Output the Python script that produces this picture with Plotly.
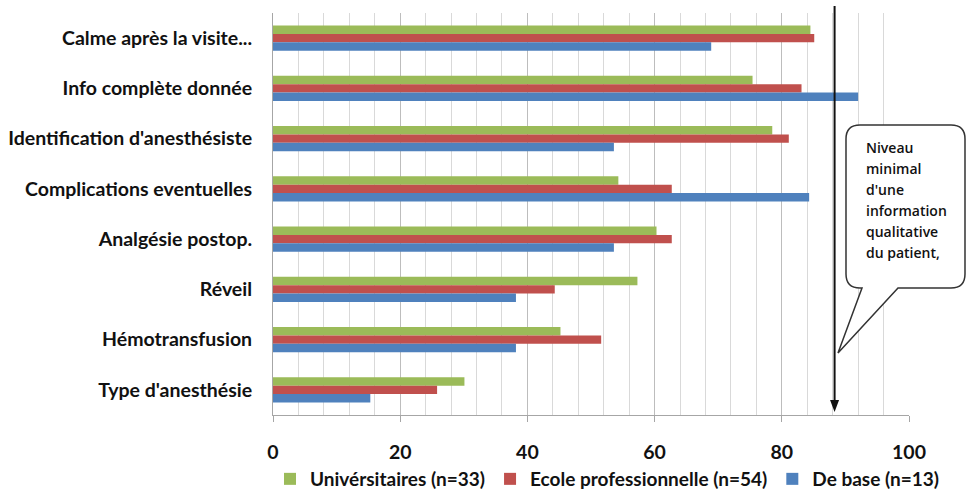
import plotly.graph_objects as go

# Survey items, listed top to bottom
categories = [
    "Calme après la visite...",
    "Info complète donnée",
    "Identification d'anesthésiste",
    "Complications eventuelles",
    "Analgésie postop.",
    "Réveil",
    "Hémotransfusion",
    "Type d'anesthésie",
]

universitaires = [84.5, 75.4, 78.5, 54.3, 60.3, 57.3, 45.2, 30.1]
ecole_pro = [85.1, 83.1, 81.1, 62.7, 62.7, 44.3, 51.6, 25.8]
de_base = [68.9, 92.0, 53.6, 84.3, 53.6, 38.2, 38.2, 15.3]

series_names = ["Univérsitaires (n=33)", "Ecole professionnelle (n=54)", "De base (n=13)"]
series_colors = ["#9BBB59", "#C0504D", "#4F81BD"]

x_ticks = [0, 20, 40, 60, 80, 100]
threshold = 88.3  # minimal level marker
callout_lines = ["Niveau", "minimal", "d'une", "information", "qualitative", "du patient,"]

W, H = 967, 492
L, R, T, B = 273, 909, 13, 415


def px_x(px):
    return (px - L) / (R - L)


def px_y(py):
    return (B - py) / (B - T)


fig = go.Figure()
for name, vals, col in zip(series_names, [universitaires, ecole_pro, de_base], series_colors):
    fig.add_trace(go.Bar(
        y=categories, x=vals, name=name, orientation="h",
        marker=dict(color=col, line=dict(width=0)),
    ))

font_lbl = dict(family="Lato", size=19.5, color="#111111", weight="bold")

fig.update_layout(
    width=W, height=H,
    margin=dict(l=L, r=W - R, t=T, b=H - B, pad=0, autoexpand=False),
    paper_bgcolor="white", plot_bgcolor="white",
    barmode="group", bargap=0.5, bargroupgap=0,
    showlegend=True,
    legend=dict(orientation="h", x=px_x(270), y=px_y(479), xanchor="left", yanchor="middle",
                font=dict(family="Lato", size=19, color="#111111", weight="bold"),
                itemwidth=30, tracegroupgap=0,
                bgcolor="rgba(0,0,0,0)"),
    xaxis=dict(range=[0, 100], tickvals=x_ticks, ticktext=[str(v) for v in x_ticks],
               showgrid=True, gridcolor="#bdbdbd", gridwidth=1,
               minor=dict(dtick=4, showgrid=True, gridcolor="#d9d9d9", gridwidth=1),
               showline=True, linecolor="#a6a6a6", linewidth=1,
               ticks="outside", ticklen=6, tickcolor="#a6a6a6",
               ticklabelstandoff=14, tickfont=font_lbl, zeroline=False, fixedrange=True),
    yaxis=dict(categoryorder="array", categoryarray=categories, autorange="reversed",
               showgrid=False, showline=True, linecolor="#a6a6a6", linewidth=1,
               ticks="", ticklabelstandoff=16, tickfont=font_lbl, zeroline=False),
)

# Threshold arrow: vertical line with a filled head
arrow_px = L + threshold / 100 * (R - L)
fig.add_shape(type="line", xref="x", yref="paper", x0=threshold, x1=threshold,
              y0=px_y(6), y1=px_y(402), line=dict(color="#111111", width=2))
fig.add_shape(type="path", xref="paper", yref="paper",
              path="M {a},{b} L {c},{b} L {d},{e} Z".format(
                  a=px_x(arrow_px - 4.5), b=px_y(400), c=px_x(arrow_px + 4.5),
                  d=px_x(arrow_px), e=px_y(412)),
              fillcolor="#111111", line=dict(width=0))

# Speech-bubble callout
x0, x1, y0, y1, r = 846, 965, 125, 288, 14
pts = [
    ("M", (x0 + r, y0)), ("L", (x1 - r, y0)), ("Q", (x1, y0), (x1, y0 + r)),
    ("L", (x1, y1 - r)), ("Q", (x1, y1), (x1 - r, y1)),
    ("L", (898, y1)), ("L", (838, 353)), ("L", (862, y1)),
    ("L", (x0 + r, y1)), ("Q", (x0, y1), (x0, y1 - r)),
    ("L", (x0, y0 + r)), ("Q", (x0, y0), (x0 + r, y0)),
]
path = ""
for item in pts:
    cmd = item[0]
    coords = " ".join("{:.5f},{:.5f}".format(px_x(p[0]), px_y(p[1])) for p in item[1:])
    path += "{} {} ".format(cmd, coords)
path += "Z"
fig.add_shape(type="path", xref="paper", yref="paper", path=path,
              fillcolor="white", line=dict(color="#333333", width=1.5))

for i, line in enumerate(callout_lines):
    fig.add_annotation(xref="paper", yref="paper", x=px_x(864), y=px_y(147 + i * 21),
                       text=line, showarrow=False, xanchor="left", yanchor="middle",
                       font=dict(family="Open Sans", size=14, color="#111111", weight=600))

fig.write_html("out.html")
